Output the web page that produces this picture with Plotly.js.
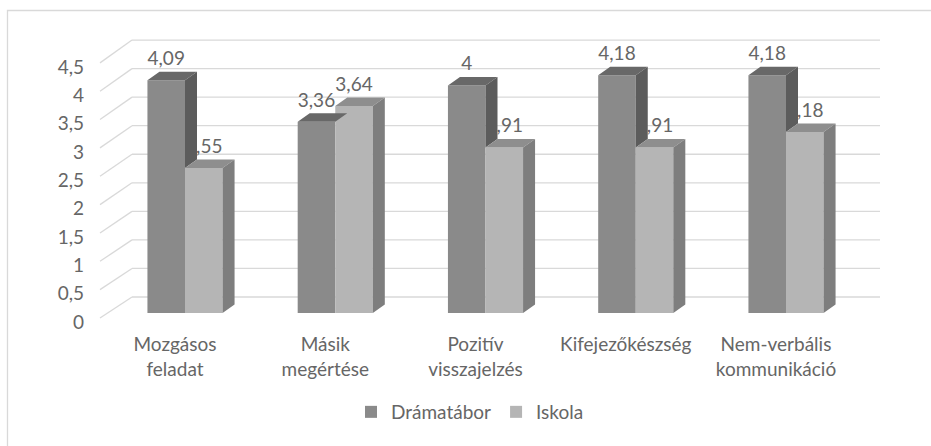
<!DOCTYPE html>
<html>
<head>
<meta charset="utf-8">
<script src="https://cdn.plot.ly/plotly-3.0.1.min.js"></script>
<style>html,body{margin:0;padding:0;background:#fff;}#chart{width:931px;height:446px;}</style>
</head>
<body>
<div id="chart"></div>
<script>
// ---- data ----
const categories = ["Mozgásos<br>feladat", "Másik<br>megértése", "Pozitív<br>visszajelzés", "Kifejezőkészség", "Nem-verbális<br>kommunikáció"];
const dramatabor = [4.09, 3.36, 4.00, 4.18, 4.18];
const iskola = [2.55, 3.64, 2.91, 2.91, 3.18];
const yTicks = [0, 0.5, 1, 1.5, 2, 2.5, 3, 3.5, 4, 4.5];
const seriesNames = ["Drámatábor", "Iskola"];

// ---- layout geometry (pixels) ----
const W = 931, H = 446;
const FRONT0 = 313, FRONT_PX = 56.9;     // bar front faces
const BACK0 = 297, BACK_PX = 57.1;       // back wall gridlines
const LABEL0 = 318, LABEL_PX = 56.7;     // left end of floor diagonals
const X0 = 185, GROUP_PX = 150.25;       // category spacing
const DEPTH_DX = 12, DEPTH_DY = 8.5;     // 3D depth
const WALL_L = 132, WALL_R = 880, DIAG_L = 100;
const LABEL_SHIFT = -10;                 // category label offset (px)
const TEXT_RAISE = 20;                   // data label above bar (px)

const px2x = p => (p - X0) / GROUP_PX;
const py2y = p => (FRONT0 - p) / FRONT_PX;
const dx = DEPTH_DX / GROUP_PX, dy = DEPTH_DY / FRONT_PX;
const half = 0.25;
const fmt = v => String(v).replace('.', ',');

const idx = categories.map((_, i) => i);
const C = {
  dFront: '#8a8a8a', dTop: '#686868', dSide: '#5c5c5c',
  iFront: '#b5b5b5', iTop: '#8e8e8e', iSide: '#7e7e7e',
  text: '#666666', grid: '#d9d9d9'
};
const FONT = 'Lato, "Open Sans", sans-serif';

function poly(list) {
  const xs = [], ys = [];
  list.forEach(pts => { pts.forEach(p => { xs.push(p[0]); ys.push(p[1]); }); xs.push(null); ys.push(null); });
  return {xs, ys};
}

// top faces
const dTop = poly(idx.map(i => {
  const v = dramatabor[i], xl = i - half, xr = i;
  return [[xl, v], [xr, v], [xr + dx, v + dy], [xl + dx, v + dy], [xl, v]];
}));
const iTop = poly(idx.map(i => {
  const v = iskola[i], xl = i, xr = i + half;
  return [[xl, v], [xr, v], [xr + dx, v + dy], [xl + dx, v + dy], [xl, v]];
}));
// side faces
const dSide = poly(idx.map(i => {
  const v = dramatabor[i], m = Math.min(iskola[i], v), xr = i;
  return [[xr, v], [xr + dx, v + dy], [xr + dx, m + dy], [xr, m], [xr, v]];
}));
const iSide = poly(idx.map(i => {
  const v = iskola[i], xr = i + half;
  return [[xr, v], [xr + dx, v + dy], [xr + dx, dy], [xr, 0], [xr, v]];
}));

function face(p, color) {
  return {type: 'scatter', mode: 'lines', x: p.xs, y: p.ys, fill: 'toself', fillcolor: color,
    line: {width: 0, color: color}, hoverinfo: 'skip', showlegend: false, connectgaps: false};
}
function labels(vals, off) {
  return {type: 'scatter', mode: 'text', x: idx.map(i => i + off), y: vals.map(v => v + TEXT_RAISE / FRONT_PX),
    text: vals.map(fmt), textposition: 'middle center', textfont: {family: FONT, size: 19, color: C.text},
    hoverinfo: 'skip', showlegend: false};
}

const traces = [
  {type: 'bar', name: seriesNames[0], x: idx, y: dramatabor, marker: {color: C.dFront}, hoverinfo: 'skip'},
  {type: 'bar', name: seriesNames[1], x: idx, y: iskola, marker: {color: C.iFront}, hoverinfo: 'skip'},
  labels(iskola, half / 2),
  face(dTop, C.dTop),
  face(dSide, C.dSide),
  face(iTop, C.iTop),
  face(iSide, C.iSide),
  labels(dramatabor, -half / 2),
  {type: 'scatter', x: [0], y: [0], xaxis: 'x2', yaxis: 'y2', mode: 'markers', marker: {opacity: 0}, hoverinfo: 'skip', showlegend: false}
];

// gridlines + diagonals as below-layer shapes
const shapes = [];
yTicks.forEach(v => {
  const yb = py2y(BACK0 - BACK_PX * v), yl = py2y(LABEL0 - LABEL_PX * v);
  shapes.push({type: 'line', xref: 'x', yref: 'y', x0: px2x(DIAG_L), y0: yl, x1: px2x(WALL_L), y1: yb, line: {color: C.grid, width: 1.3}, layer: 'below'});
  shapes.push({type: 'line', xref: 'x', yref: 'y', x0: px2x(WALL_L), y0: yb, x1: px2x(WALL_R), y1: yb, line: {color: C.grid, width: 1.3}, layer: 'below'});
});
shapes.push({type: 'rect', xref: 'paper', yref: 'paper', x0: 7.5 / W, x1: 1.02, y0: -0.02, y1: 1 - 10.5 / H, line: {color: C.grid, width: 1.3}, layer: 'below'});

const xr = [px2x(0), px2x(W)];
const layout = {
  width: W, height: H, margin: {l: 0, r: 0, t: 0, b: 0},
  paper_bgcolor: '#fff', plot_bgcolor: 'rgba(0,0,0,0)',
  barmode: 'group', bargap: 0.5, bargroupgap: 0,
  font: {family: FONT, color: C.text, size: 19},
  separators: ', ',
  xaxis: {range: xr, visible: false, fixedrange: true},
  yaxis: {range: [py2y(H), py2y(0)], visible: false, fixedrange: true},
  xaxis2: {overlaying: 'x', anchor: 'free', position: 1 - 331 / H, range: [xr[0] - LABEL_SHIFT / GROUP_PX, xr[1] - LABEL_SHIFT / GROUP_PX],
    tickvals: idx, ticktext: categories, showgrid: false, zeroline: false, showline: false, ticks: '',
    tickfont: {family: FONT, size: 19, color: C.text}},
  yaxis2: {overlaying: 'y', anchor: 'free', position: 84 / W, side: 'left',
    range: [(LABEL0 + 4 - H) / LABEL_PX, (LABEL0 + 4) / LABEL_PX],
    tickvals: yTicks, ticktext: yTicks.map(fmt), showgrid: false, zeroline: false, showline: false, ticks: '',
    tickfont: {family: FONT, size: 19, color: C.text}},
  legend: {orientation: 'h', x: 470 / W, xanchor: 'center', y: 1 - 412 / H, yanchor: 'middle',
    font: {family: FONT, size: 19, color: C.text}, itemwidth: 30, bgcolor: 'rgba(0,0,0,0)'},
  shapes: shapes,
  showlegend: true
};

Plotly.newPlot('chart', traces, layout, {displayModeBar: false, staticPlot: true});
</script>
</body>
</html>
